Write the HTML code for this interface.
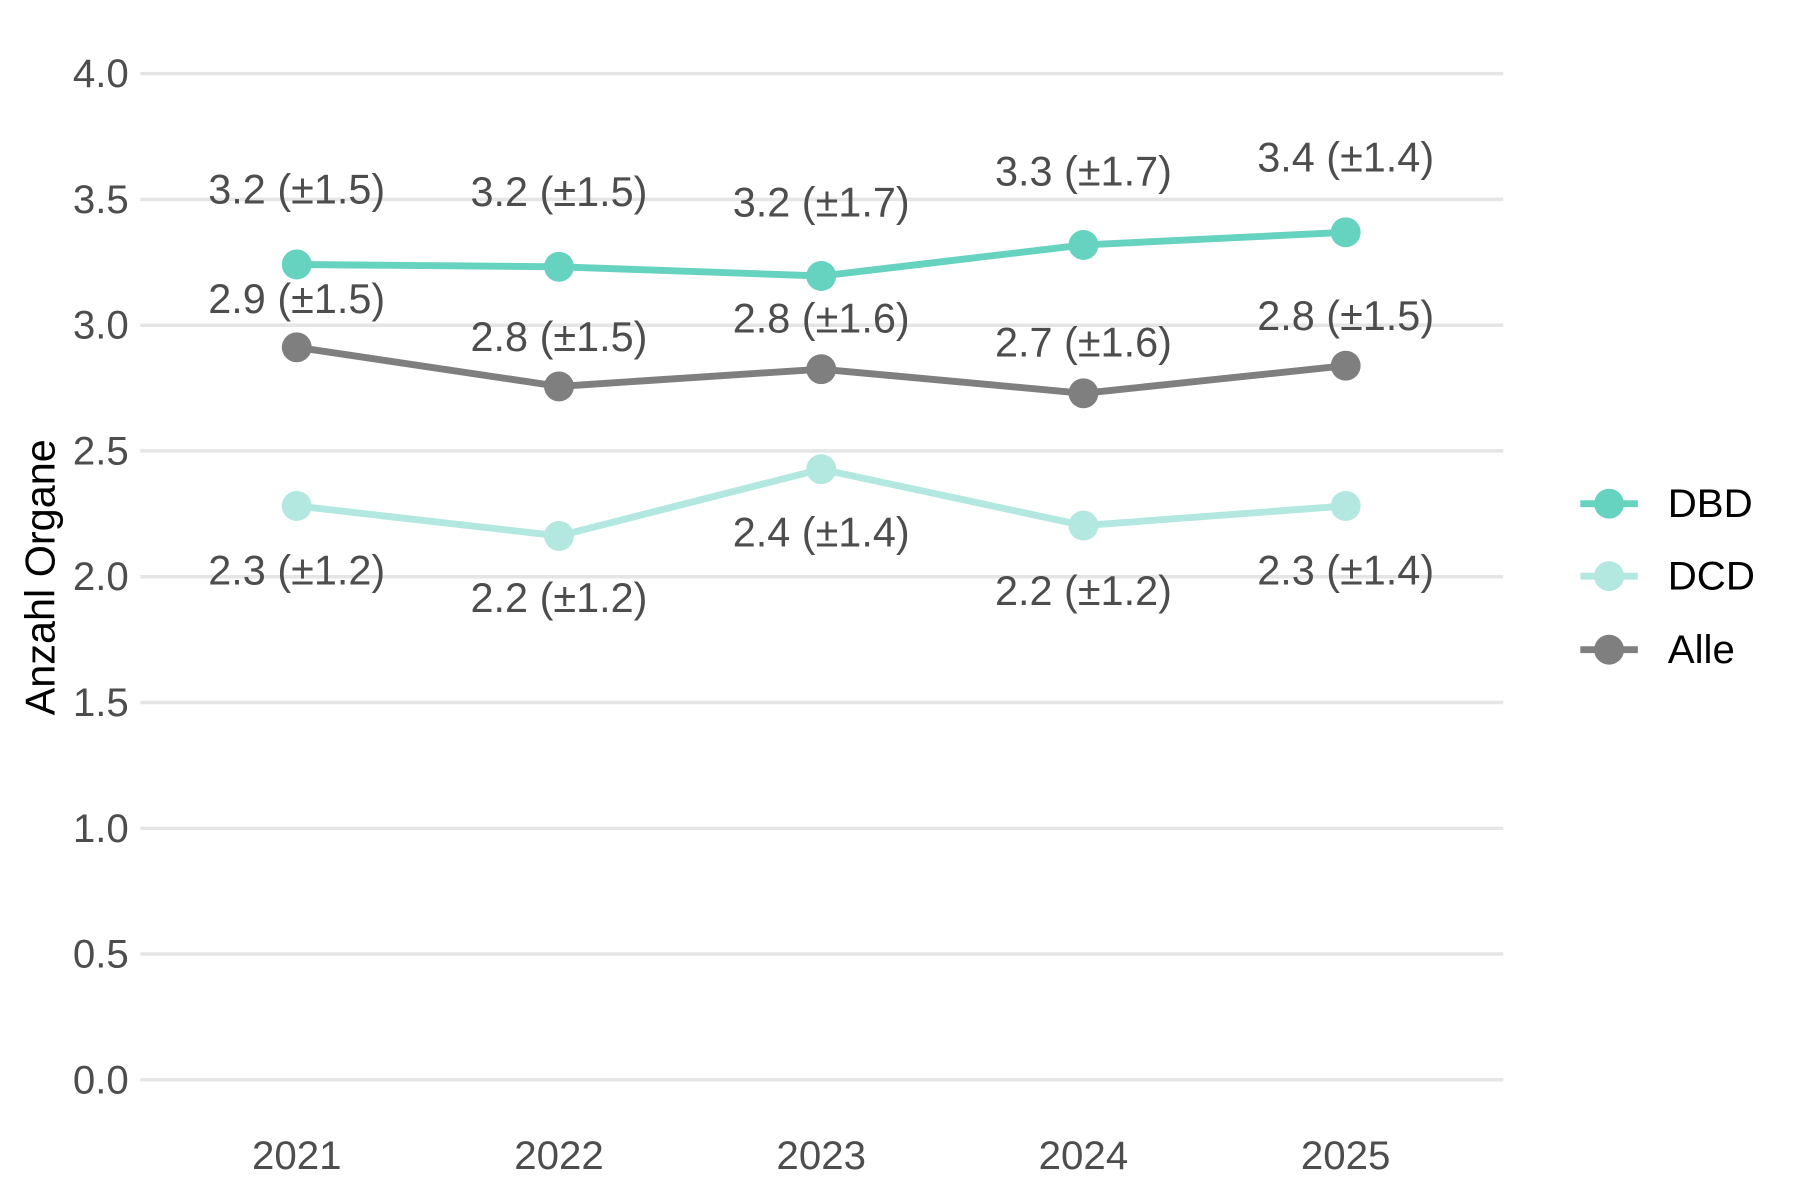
<!DOCTYPE html>
<html><head><meta charset="utf-8"><style>html,body{margin:0;padding:0;background:#fff}svg{display:block}</style></head>
<body>
<svg width="1800" height="1200" viewBox="0 0 1565 1043.5" preserveAspectRatio="none" xmlns="http://www.w3.org/2000/svg" font-family="Liberation Sans, Arial, sans-serif">
<rect width="1565" height="1043.5" fill="#fff"/>
<g stroke="#e5e5e5" stroke-width="3">
<line x1="122" x2="1307" y1="64" y2="64"/><line x1="122" x2="1307" y1="173.4" y2="173.4"/>
<line x1="122" x2="1307" y1="282.8" y2="282.8"/><line x1="122" x2="1307" y1="392.1" y2="392.1"/>
<line x1="122" x2="1307" y1="501.5" y2="501.5"/><line x1="122" x2="1307" y1="610.9" y2="610.9"/>
<line x1="122" x2="1307" y1="720.3" y2="720.3"/><line x1="122" x2="1307" y1="829.6" y2="829.6"/>
<line x1="122" x2="1307" y1="939" y2="939"/>
</g>
<g fill="#4d4d4d" font-size="35" text-anchor="end" dominant-baseline="central">
<text x="112" y="64">4.0</text><text x="112" y="173.4">3.5</text><text x="112" y="282.8">3.0</text>
<text x="112" y="392.1">2.5</text><text x="112" y="501.5">2.0</text><text x="112" y="610.9">1.5</text>
<text x="112" y="720.3">1.0</text><text x="112" y="829.6">0.5</text><text x="112" y="939">0.0</text>
</g>
<g fill="#4d4d4d" font-size="35" text-anchor="middle" dominant-baseline="central">
<text x="258" y="1005">2021</text><text x="486" y="1005">2022</text><text x="714" y="1005">2023</text><text x="942" y="1005">2024</text><text x="1170" y="1005">2025</text>
</g>
<text transform="translate(35,502) rotate(-90)" font-size="36" text-anchor="middle" dominant-baseline="central" fill="#000">Anzahl Organe</text>
<g fill="none" stroke-width="6" stroke-linejoin="round">
<polyline stroke="#b2e8df" points="258,440 486,466 714,408 942,457 1170,440"/>
<polyline stroke="#7f7f7f" points="258,302 486,336 714,321 942,342 1170,318"/>
<polyline stroke="#66d2c0" points="258,230 486,232 714,240 942,213 1170,202"/>
</g>
<g fill="#b2e8df"><circle cx="258" cy="440" r="13"/><circle cx="486" cy="466" r="13"/><circle cx="714" cy="408" r="13"/><circle cx="942" cy="457" r="13"/><circle cx="1170" cy="440" r="13"/></g>
<g fill="#7f7f7f"><circle cx="258" cy="302" r="13"/><circle cx="486" cy="336" r="13"/><circle cx="714" cy="321" r="13"/><circle cx="942" cy="342" r="13"/><circle cx="1170" cy="318" r="13"/></g>
<g fill="#66d2c0"><circle cx="258" cy="230" r="13"/><circle cx="486" cy="232" r="13"/><circle cx="714" cy="240" r="13"/><circle cx="942" cy="213" r="13"/><circle cx="1170" cy="202" r="13"/></g>
<g fill="#4d4d4d" font-size="36" text-anchor="middle" dominant-baseline="central">
<text x="258" y="165">3.2 (±1.5)</text><text x="486" y="167">3.2 (±1.5)</text><text x="714" y="176">3.2 (±1.7)</text><text x="942" y="149">3.3 (±1.7)</text><text x="1170" y="137">3.4 (±1.4)</text>
<text x="258" y="260">2.9 (±1.5)</text><text x="486" y="293">2.8 (±1.5)</text><text x="714" y="277">2.8 (±1.6)</text><text x="942" y="298">2.7 (±1.6)</text><text x="1170" y="275">2.8 (±1.5)</text>
<text x="258" y="496">2.3 (±1.2)</text><text x="486" y="520">2.2 (±1.2)</text><text x="714" y="463">2.4 (±1.4)</text><text x="942" y="514">2.2 (±1.2)</text><text x="1170" y="496">2.3 (±1.4)</text>
</g>
<g stroke-width="6">
<line x1="1374" x2="1424" y1="438" y2="438" stroke="#66d2c0"/><circle cx="1399" cy="438" r="13" fill="#66d2c0"/>
<line x1="1374" x2="1424" y1="501" y2="501" stroke="#b2e8df"/><circle cx="1399" cy="501" r="13" fill="#b2e8df"/>
<line x1="1374" x2="1424" y1="565" y2="565" stroke="#7f7f7f"/><circle cx="1399" cy="565" r="13" fill="#7f7f7f"/>
</g>
<g fill="#000" font-size="35" dominant-baseline="central">
<text x="1450" y="438">DBD</text><text x="1450" y="501">DCD</text><text x="1450" y="565">Alle</text>
</g>
</svg>
</body></html>
